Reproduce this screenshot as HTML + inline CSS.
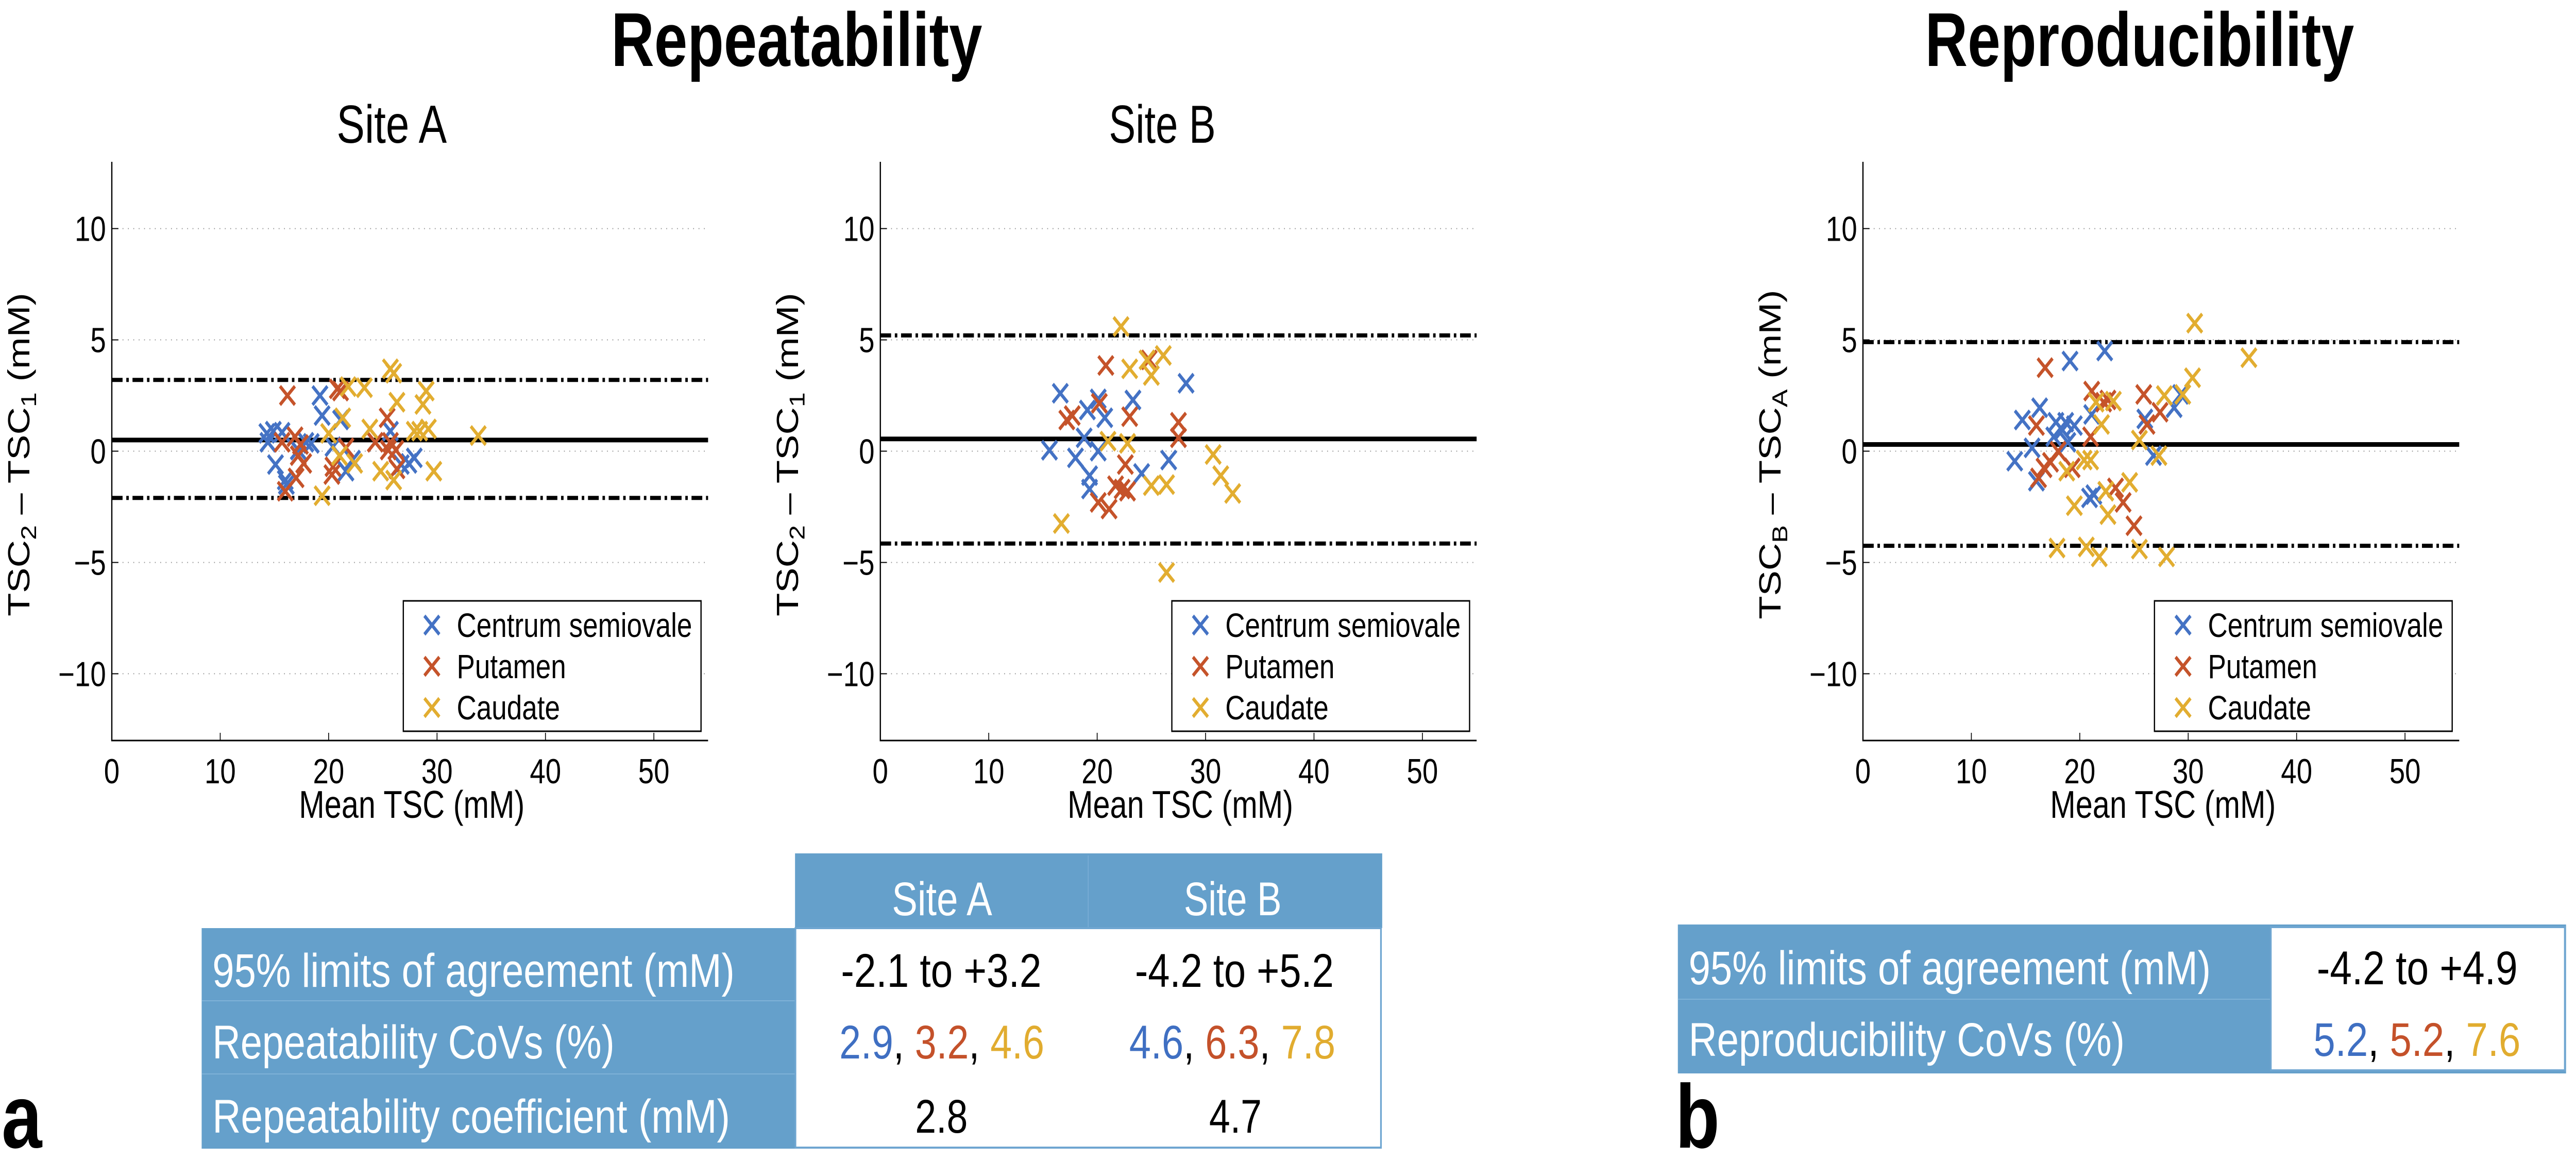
<!DOCTYPE html>
<html><head><meta charset="utf-8">
<style>
html,body{margin:0;padding:0;background:#fff;width:100%;height:100%;overflow:hidden;}
svg{display:block;font-family:"Liberation Sans",sans-serif;width:100vw;height:100vh;}
</style></head>
<body>
<svg id="fig" xmlns="http://www.w3.org/2000/svg" viewBox="0 0 6221 2251" preserveAspectRatio="none">
<rect x="0" y="0" width="6221" height="2251" fill="#fff"/>
<text x="1476" y="128" font-size="148" font-weight="bold" textLength="896" lengthAdjust="spacingAndGlyphs">Repeatability</text>
<text x="4649" y="128" font-size="148" font-weight="bold" textLength="1036" lengthAdjust="spacingAndGlyphs">Reproducibility</text>
<text x="813" y="277" font-size="104" textLength="266" lengthAdjust="spacingAndGlyphs">Site A</text>
<text x="2678" y="277" font-size="104" textLength="258" lengthAdjust="spacingAndGlyphs">Site B</text>
<g id="plots"></g>

<g>
<rect x="1920" y="1656" width="1418" height="145" fill="#65a0cb"/>
<line x1="2628" y1="1660" x2="2628" y2="1801" stroke="#7aaed6" stroke-width="2"/>
<rect x="487" y="1801" width="1433" height="428" fill="#65a0cb"/>
<line x1="487" y1="1942" x2="1920" y2="1942" stroke="#7fb2d8" stroke-width="2"/>
<line x1="487" y1="2084" x2="1920" y2="2084" stroke="#7fb2d8" stroke-width="2"/>
<rect x="1921" y="1801" width="1414" height="426" fill="#fff" stroke="#6fa6d1" stroke-width="4"/>
<g fill="#fff" font-size="92">
<text x="2154" y="1776" textLength="242" lengthAdjust="spacingAndGlyphs">Site A</text>
<text x="2859" y="1776" textLength="236" lengthAdjust="spacingAndGlyphs">Site B</text>
<text x="513" y="1915" textLength="1261" lengthAdjust="spacingAndGlyphs">95% limits of agreement (mM)</text>
<text x="513" y="2054" textLength="971" lengthAdjust="spacingAndGlyphs">Repeatability CoVs (%)</text>
<text x="513" y="2198" textLength="1250" lengthAdjust="spacingAndGlyphs">Repeatability coefficient (mM)</text>
</g>
<g font-size="92" fill="#000">
<text x="2031" y="1915" textLength="484" lengthAdjust="spacingAndGlyphs">-2.1 to +3.2</text>
<text x="2741" y="1915" textLength="480" lengthAdjust="spacingAndGlyphs">-4.2 to +5.2</text>
<text x="2027" y="2054" textLength="495" lengthAdjust="spacingAndGlyphs"><tspan fill="#3f6fc2">2.9</tspan>, <tspan fill="#c4512a">3.2</tspan>, <tspan fill="#e1ac2f">4.6</tspan></text>
<text x="2727" y="2054" textLength="498" lengthAdjust="spacingAndGlyphs"><tspan fill="#3f6fc2">4.6</tspan>, <tspan fill="#c4512a">6.3</tspan>, <tspan fill="#e1ac2f">7.8</tspan></text>
<text x="2210" y="2198" textLength="127" lengthAdjust="spacingAndGlyphs">2.8</text>
<text x="2920" y="2198" textLength="127" lengthAdjust="spacingAndGlyphs">4.7</text>
</g>
</g>
<text x="4" y="2227" font-size="175" font-weight="bold">a</text>

<g>
<rect x="4052" y="1794" width="2145" height="289" fill="#65a0cb"/>
<line x1="4052" y1="1939" x2="5484" y2="1939" stroke="#7fb2d8" stroke-width="2"/>
<rect x="5484" y="1799" width="710" height="278" fill="#fff" stroke="#6fa6d1" stroke-width="4"/>
<g fill="#fff" font-size="92">
<text x="4078" y="1910" textLength="1261" lengthAdjust="spacingAndGlyphs">95% limits of agreement (mM)</text>
<text x="4078" y="2049" textLength="1053" lengthAdjust="spacingAndGlyphs">Reproducibility CoVs (%)</text>
</g>
<text x="5595" y="1910" font-size="92" textLength="485" lengthAdjust="spacingAndGlyphs">-4.2 to +4.9</text>
<text x="5587" y="2049" font-size="92" textLength="500" lengthAdjust="spacingAndGlyphs"><tspan fill="#3f6fc2">5.2</tspan>, <tspan fill="#c4512a">5.2</tspan>, <tspan fill="#e1ac2f">7.6</tspan></text>
</g>
<text x="4046" y="2227" font-size="175" font-weight="bold">b</text>
</svg>

<script>
const seriesNames = ["Centrum semiovale", "Putamen", "Caudate"];
const xTicks = [0, 10, 20, 30, 40, 50];
const yTicks = [10, 5, 0, -5, -10];
const yTickLabels = ["10", "5", "0", "\u22125", "\u221210"];

const siteA_centrum_x = [14.3,14.9,15.7,14.4,15.1,16.0,16.1,17.2,17.9,18.4,19.2,19.4,21.1,20.4,21.6,22.2,25.7,26.7,27.4,27.9];
const siteA_centrum_y = [0.8,0.9,0.85,0.4,-0.6,-1.3,-1.5,0.05,0.4,0.35,2.5,1.6,1.4,0.2,-0.9,-0.4,0.9,-0.6,-0.55,-0.3];
const siteA_putamen_x = [16.2,16.0,15.7,16.9,17.2,17.7,17.0,17.4,20.8,21.1,20.4,20.3,21.6,24.3,25.4,25.5,26.2,26.3,25.7];
const siteA_putamen_y = [2.5,-1.8,0.4,0.65,-0.2,-0.55,-1.2,0.3,2.8,2.7,-0.7,-1.05,0.15,0.4,1.5,0.05,0.05,-0.8,0.4];
const siteA_caudate_x = [19.4,20.0,21.0,21.3,21.8,23.3,22.4,23.8,25.7,26.0,26.3,24.8,26.0,27.9,28.7,29.0,29.2,28.4,29.7,33.8];
const siteA_caudate_y = [-2.0,0.8,-0.2,1.5,2.9,2.85,-0.55,1.0,3.7,3.5,2.2,-0.9,-1.3,0.9,2.1,2.7,1.0,0.9,-0.9,0.7];
const siteA_lines = [0.5, 3.2, -2.1];

const siteB_centrum_x = [15.6,16.6,18.0,18.8,19.1,19.3,19.3,20.1,20.1,20.7,23.3,24.1,26.6,28.2];
const siteB_centrum_y = [0.04,2.6,-0.3,0.6,1.85,-1.1,-1.7,2.35,0,1.5,2.3,-1.0,-0.4,3.05];
const siteB_putamen_x = [17.2,17.7,20.8,20.2,20.1,21.1,21.7,22.3,22.8,22.6,23.0,24.8,27.5,27.5];
const siteB_putamen_y = [1.4,1.6,3.85,2.15,-2.3,-2.6,-1.55,-1.7,-1.8,-0.6,1.55,4.1,1.3,0.6];
const siteB_caudate_x = [22.2,23.0,24.6,25.0,26.1,21.0,22.8,25.0,26.4,16.7,26.4,30.7,31.4,32.5];
const siteB_caudate_y = [5.6,3.7,4.1,3.4,4.3,0.45,0.35,-1.55,-1.5,-3.25,-5.45,-0.15,-1.1,-1.9];
const siteB_lines = [0.55, 5.2, -4.15];

const repro_centrum_x = [14.0,14.7,15.6,16.3,16.0,17.8,17.6,18.4,18.7,18.9,19.5,19.1,20.9,21.3,21.1,22.3,26.0,26.8,28.7,29.3];
const repro_centrum_y = [-0.45,1.4,0.15,1.95,-1.35,1.3,0.65,0.95,1.3,0.4,1.15,4.05,-2.1,-1.95,1.65,4.5,1.45,-0.2,1.95,2.55];
const repro_putamen_x = [16.8,16.0,16.2,16.7,17.3,18.0,19.3,21.0,21.1,22.2,22.6,23.3,24.0,25.0,25.9,26.2,27.4];
const repro_putamen_y = [3.75,1.15,-1.2,-0.75,-0.5,0,-0.75,0.65,2.7,2.2,2.3,-1.65,-2.3,-3.35,2.55,1.2,1.75];
const repro_caudate_x = [18.8,19.5,17.9,20.6,21.8,20.4,21.0,21.5,22.0,22.4,22.6,23.1,24.6,25.5,25.5,27.3,27.8,28.0,29.5,30.4,30.6,35.6];
const repro_caudate_y = [-0.9,-2.45,-4.35,-4.3,-4.75,-0.4,-0.4,2.2,1.2,-1.8,-2.85,2.25,-1.4,0.5,-4.4,-0.2,2.5,-4.75,2.55,3.3,5.75,4.2];
const repro_lines = [0.3, 4.9, -4.25];

const NS = "http://www.w3.org/2000/svg";
const COLORS = ["#4472c4", "#c5532a", "#e2ad30"];
const X_MIN = 0, X_MAX = 55, Y_MIN = -13, Y_MAX = 13;
const TOP = 314, BOTTOM = 1437, PW = 1440;
const root = document.getElementById("plots");

function mk(tag, attrs, parent) {
  const e = document.createElementNS(NS, tag);
  for (const k in attrs) e.setAttribute(k, attrs[k]);
  parent.appendChild(e);
  return e;
}

function drawPlot(name, L, xs, ys, lines, sub1, sub2) {
  const g = mk("g", {}, root);
  
  
  const sx = v => L + (v - X_MIN) / (X_MAX - X_MIN) * PW;
  const sy = v => BOTTOM - (v - Y_MIN) / (Y_MAX - Y_MIN) * (BOTTOM - TOP);
  yTicks.forEach((t, i) => {
    const gl = mk("line", {x1: L, x2: L + PW, y1: sy(t), y2: sy(t), stroke: "#8a8a8a", "stroke-width": 2, "stroke-dasharray": "2 11"}, g);
    
    
    const tk = mk("line", {x1: L, x2: L + 16, y1: sy(t), y2: sy(t), stroke: "#000", "stroke-width": 2}, g);
    
    
    const tl = mk("text", {x: L - 14, y: sy(t) + 24, "font-size": 68, "text-anchor": "end"}, g);
    tl.textContent = yTickLabels[i];
    
    
  });
  xTicks.forEach(t => {
    if (t > 0) {
      const tk = mk("line", {x1: sx(t), x2: sx(t), y1: BOTTOM, y2: BOTTOM - 15, stroke: "#000", "stroke-width": 2}, g);
      
      
    }
    const tl = mk("text", {x: sx(t), y: 1520, "font-size": 68, "text-anchor": "middle"}, g);
    tl.textContent = String(t);
    
    
  });
  const ax = mk("path", {d: `M${L},${TOP} L${L},${BOTTOM} L${L + PW},${BOTTOM}`, fill: "none", stroke: "#000", "stroke-width": 3}, g);
  
  
  lines.forEach((v, i) => {
    const attrs = {x1: L, x2: L + PW, y1: sy(v), y2: sy(v), stroke: "#000", "stroke-width": i === 0 ? 9 : 8};
    if (i > 0) attrs["stroke-dasharray"] = "26 9 6 9";
    const ln = mk("line", attrs, g);
    
    
  });
  const s = 18;
  xs.forEach((arr, si) => {
    arr.forEach((xv, j) => {
      const cx = sx(xv), cy = sy(ys[si][j]);
      const p = mk("path", {d: `M${cx - s},${cy - s}L${cx + s},${cy + s}M${cx - s},${cy + s}L${cx + s},${cy - s}`, stroke: COLORS[si], "stroke-width": 7, fill: "none"}, g);
      
      
    });
  });
  const lg = mk("g", {}, g);
  
  
  mk("rect", {x: L + 704, y: 1166, width: 719, height: 253, fill: "#fff", stroke: "#000", "stroke-width": 3}, lg);
  const ly = [1213, 1293, 1373];
  seriesNames.forEach((n, i) => {
    const en = mk("g", {}, lg);
    
    
    const cx = L + 773, cy = ly[i];
    mk("path", {d: `M${cx - s},${cy - s}L${cx + s},${cy + s}M${cx - s},${cy + s}L${cx + s},${cy - s}`, stroke: COLORS[i], "stroke-width": 7, fill: "none"}, en);
    const t = mk("text", {x: L + 833, y: cy + 23, "font-size": 66}, en);
    t.textContent = n;
  });
  const xl = mk("text", {x: L + 452, y: 1587, "font-size": 75, textLength: 545, lengthAdjust: "spacingAndGlyphs"}, g);
  xl.textContent = "Mean TSC (mM)";
  
  
  const yl = mk("text", {x: 0, y: 0, "font-size": 74, "text-anchor": "middle", transform: `translate(${L - 199},882) rotate(-90)`}, g);
  yl.innerHTML = `TSC<tspan font-size="52" dy="16">${sub2}</tspan><tspan dy="-16"> \u2013 TSC</tspan><tspan font-size="52" dy="16">${sub1}</tspan><tspan dy="-16"> (mM)</tspan>`;
  
  
}

drawPlot("plot-site-a", 270, [siteA_centrum_x, siteA_putamen_x, siteA_caudate_x], [siteA_centrum_y, siteA_putamen_y, siteA_caudate_y], siteA_lines, "1", "2");
drawPlot("plot-site-b", 2126, [siteB_centrum_x, siteB_putamen_x, siteB_caudate_x], [siteB_centrum_y, siteB_putamen_y, siteB_caudate_y], siteB_lines, "1", "2");
drawPlot("plot-reproducibility", 4499, [repro_centrum_x, repro_putamen_x, repro_caudate_x], [repro_centrum_y, repro_putamen_y, repro_caudate_y], repro_lines, "A", "B");
</script>
</body></html>
